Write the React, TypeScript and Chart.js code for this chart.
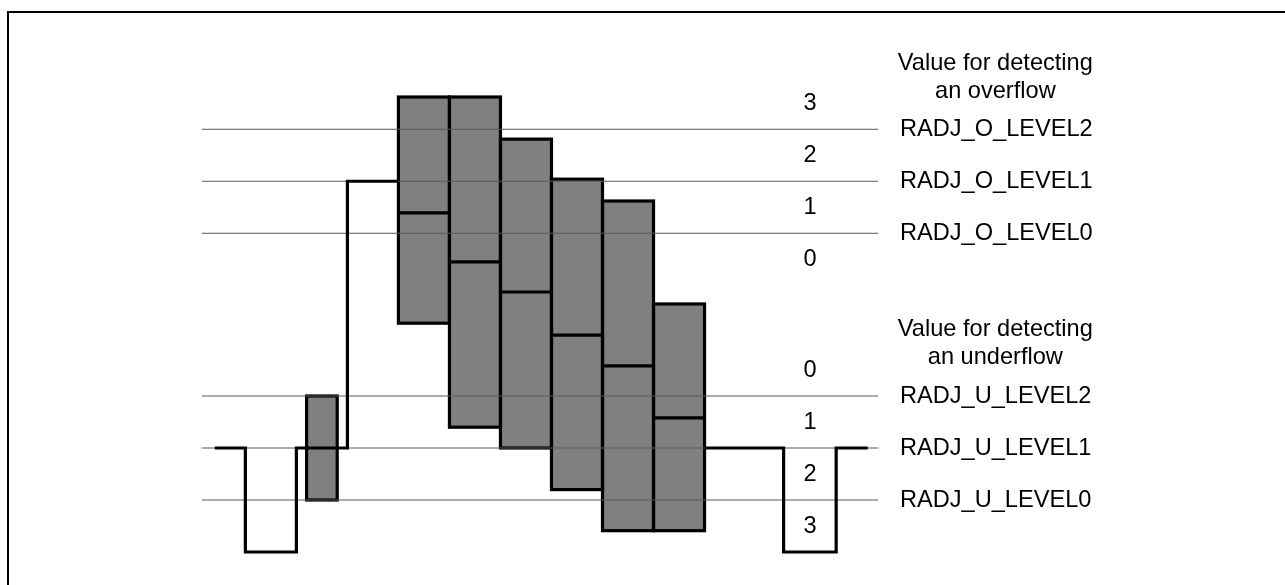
import React, { useEffect, useRef } from 'react';
import { Chart, registerables } from 'chart.js';

Chart.register(...registerables);

// ---- axis ranges (data units) ----
const X_MIN = -3.35;
const X_MAX = 9.9;
const Y_MIN = 0;
const Y_MAX = 100;

// ---- threshold levels ----
const OVERFLOW_LEVELS = [81.3, 71.3, 61.3];
const OVERFLOW_LABELS = ['RADJ_O_LEVEL2', 'RADJ_O_LEVEL1', 'RADJ_O_LEVEL0'];
const UNDERFLOW_LEVELS = [30, 20, 10];
const UNDERFLOW_LABELS = ['RADJ_U_LEVEL2', 'RADJ_U_LEVEL1', 'RADJ_U_LEVEL0'];

// ---- zone numbers ----
const OVERFLOW_ZONE_TEXT = ['3', '2', '1', '0'];
const OVERFLOW_ZONE_Y = [86.3, 76.3, 66.3, 56.3];
const UNDERFLOW_ZONE_TEXT = ['0', '1', '2', '3'];
const UNDERFLOW_ZONE_Y = [35, 25, 15, 5];
const ZONE_X = 8.567;

// ---- headings ----
const OVERFLOW_HEADING = ['Value for detecting', 'an overflow'];
const OVERFLOW_HEADING_Y = [94.0, 88.6];
const UNDERFLOW_HEADING = ['Value for detecting', 'an underflow'];
const UNDERFLOW_HEADING_Y = [42.7, 37.4];
const HEADING_X = 12.2;
const LEVEL_LABEL_X = 10.33;

// ---- signal (step line) ----
const STEP_LEFT_X = [-3.1, -2.5, -2.5, -1.5, -1.5, -0.5, -0.5, 0.5];
const STEP_LEFT_Y = [20, 20, 0, 0, 20, 20, 71.3, 71.3];
const STEP_RIGHT_X = [6.5, 8.05, 8.05, 9.08, 9.08, 9.7];
const STEP_RIGHT_Y = [20, 20, 0, 0, 20, 20];

// ---- range boxes ----
const BAR_X = [1, 2, 3, 4, 5, 6];
const BAR_LOW = [44, 24, 20, 12, 4.1, 4.1];
const BAR_HIGH = [87.5, 87.5, 79.4, 71.7, 67.5, 47.7];
const BAR_MEDIAN = [65.2, 55.8, 50, 41.7, 35.8, 25.8];

const SMALL_BAR_X = [-1];
const SMALL_BAR_LOW = [10];
const SMALL_BAR_HIGH = [30];

const FONT = '23.6px "Liberation Sans", Arial, sans-serif';
const THICK = 3.2;

export default function App() {
  const canvasRef = useRef<HTMLCanvasElement | null>(null);

  useEffect(() => {
    const canvas = canvasRef.current;
    if (!canvas) return;

    const levels = [...OVERFLOW_LEVELS, ...UNDERFLOW_LEVELS];
    const gridData: any[] = [];
    levels.forEach((l) => {
      gridData.push({ x: X_MIN, y: l }, { x: X_MAX, y: l }, { x: X_MAX, y: null });
    });

    const medianData: any[] = [];
    BAR_X.forEach((bx, i) => {
      medianData.push(
        { x: bx - 0.5, y: BAR_MEDIAN[i] },
        { x: bx + 0.5, y: BAR_MEDIAN[i] },
        { x: bx + 0.5, y: null }
      );
    });

    const stepLeft = STEP_LEFT_X.map((x, i) => ({ x, y: STEP_LEFT_Y[i] }));
    const stepRight = STEP_RIGHT_X.map((x, i) => ({ x, y: STEP_RIGHT_Y[i] }));

    const outlinePlugin = {
      id: 'barOutline',
      afterDatasetDraw(chart: any, args: any) {
        if (args.meta.type !== 'bar') return;
        const ctx = chart.ctx;
        ctx.save();
        ctx.strokeStyle = '#000';
        ctx.lineWidth = THICK;
        ctx.lineJoin = 'miter';
        args.meta.data.forEach((el: any) => {
          const p = el.getProps(['x', 'y', 'base', 'width']);
          const top = Math.min(p.y, p.base);
          const h = Math.abs(p.base - p.y);
          ctx.strokeRect(p.x - p.width / 2, top, p.width, h);
        });
        ctx.restore();
      },
    };

    const textPlugin = {
      id: 'texts',
      afterDraw(chart: any) {
        const { ctx } = chart;
        const xs = chart.scales.x;
        const ys = chart.scales.y;
        ctx.save();
        ctx.fillStyle = '#000';
        ctx.font = FONT;
        ctx.textBaseline = 'middle';
        ctx.textAlign = 'center';
        OVERFLOW_ZONE_TEXT.forEach((t, i) =>
          ctx.fillText(t, xs.getPixelForValue(ZONE_X), ys.getPixelForValue(OVERFLOW_ZONE_Y[i]))
        );
        UNDERFLOW_ZONE_TEXT.forEach((t, i) =>
          ctx.fillText(t, xs.getPixelForValue(ZONE_X), ys.getPixelForValue(UNDERFLOW_ZONE_Y[i]))
        );
        OVERFLOW_HEADING.forEach((t, i) =>
          ctx.fillText(t, xs.getPixelForValue(HEADING_X), ys.getPixelForValue(OVERFLOW_HEADING_Y[i]))
        );
        UNDERFLOW_HEADING.forEach((t, i) =>
          ctx.fillText(t, xs.getPixelForValue(HEADING_X), ys.getPixelForValue(UNDERFLOW_HEADING_Y[i]))
        );
        ctx.textAlign = 'left';
        OVERFLOW_LABELS.forEach((t, i) =>
          ctx.fillText(t, xs.getPixelForValue(LEVEL_LABEL_X), ys.getPixelForValue(OVERFLOW_LEVELS[i]))
        );
        UNDERFLOW_LABELS.forEach((t, i) =>
          ctx.fillText(t, xs.getPixelForValue(LEVEL_LABEL_X), ys.getPixelForValue(UNDERFLOW_LEVELS[i]))
        );
        ctx.restore();
      },
    };

    const lineCommon = {
      type: 'line' as const,
      pointRadius: 0,
      tension: 0,
      fill: false,
      spanGaps: false,
      clip: false as any,
      borderCapStyle: 'butt' as const,
      borderJoinStyle: 'miter' as const,
    };

    const chart = new Chart(canvas, {
      type: 'line',
      data: {
        datasets: [
          {
            type: 'bar',
            data: BAR_X.map((x, i) => ({ x, y: [BAR_LOW[i], BAR_HIGH[i]] })) as any,
            backgroundColor: '#808080',
            borderWidth: 0,
            barPercentage: 1,
            categoryPercentage: 1,
            grouped: false,
            order: 5,
            clip: false as any,
          } as any,
          {
            type: 'bar',
            data: SMALL_BAR_X.map((x, i) => ({ x, y: [SMALL_BAR_LOW[i], SMALL_BAR_HIGH[i]] })) as any,
            backgroundColor: '#808080',
            borderWidth: 0,
            barPercentage: 0.6,
            categoryPercentage: 1,
            grouped: false,
            order: 5,
            clip: false as any,
          } as any,
          {
            ...lineCommon,
            data: gridData,
            borderColor: '#5a5a5a',
            borderWidth: 1.2,
            order: 3,
          } as any,
          {
            ...lineCommon,
            data: medianData,
            borderColor: '#000',
            borderWidth: THICK,
            order: 2,
          } as any,
          {
            ...lineCommon,
            data: stepLeft,
            borderColor: '#000',
            borderWidth: THICK,
            order: 1,
          } as any,
          {
            ...lineCommon,
            data: stepRight,
            borderColor: '#000',
            borderWidth: THICK,
            order: 1,
          } as any,
        ],
      },
      options: {
        responsive: false,
        animation: false,
        layout: { padding: { left: 202, right: 407, top: 32, bottom: 33 } },
        plugins: {
          legend: { display: false },
          tooltip: { enabled: false },
        },
        events: [],
        scales: {
          x: {
            type: 'linear',
            display: false,
            min: X_MIN,
            max: X_MAX,
            offset: false,
            ticks: { stepSize: 1, includeBounds: false },
            grid: { display: false },
          },
          y: {
            type: 'linear',
            display: false,
            min: Y_MIN,
            max: Y_MAX,
            grid: { display: false },
          },
        },
      },
      plugins: [outlinePlugin, textPlugin],
    });

    return () => chart.destroy();
  }, []);

  return (
    <div
      style={{
        position: 'fixed',
        left: 0,
        top: 0,
        width: 1285,
        height: 585,
        overflow: 'hidden',
        background: '#fff',
      }}
    >
      <div
        style={{
          position: 'absolute',
          left: 7,
          top: 11,
          width: 1320,
          height: 640,
          border: '2px solid #000',
          boxSizing: 'border-box',
        }}
      />
      <canvas
        ref={canvasRef}
        width={1285}
        height={585}
        style={{ position: 'absolute', left: 0, top: 0, width: 1285, height: 585 }}
      />
    </div>
  );
}
